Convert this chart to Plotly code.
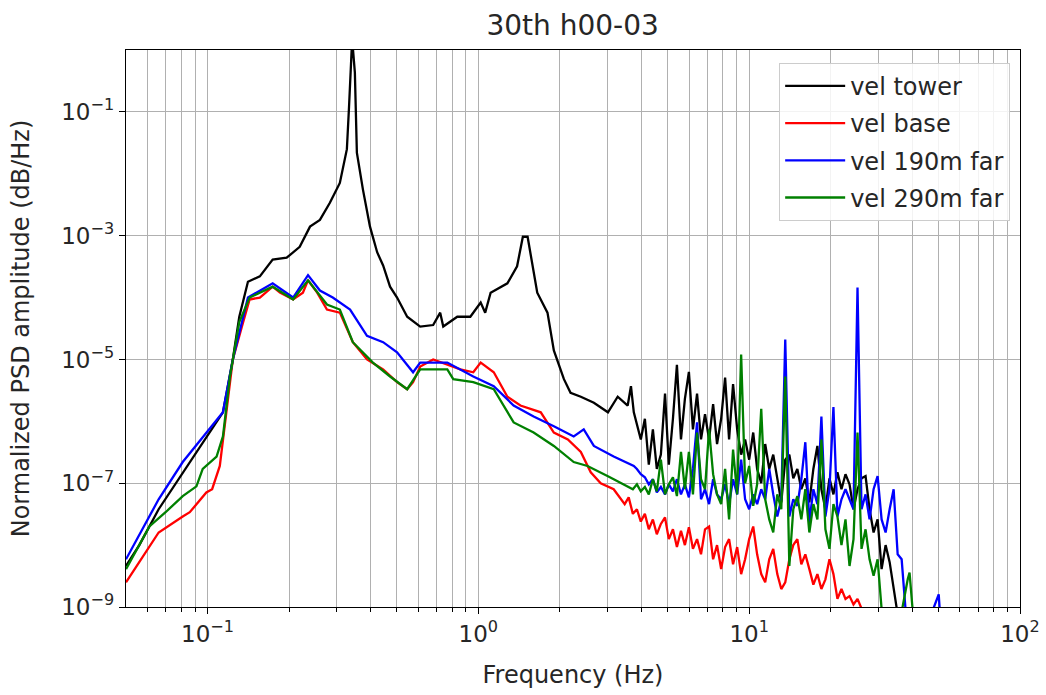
import plotly.graph_objects as go

# ---------------- data ----------------
# low / mid frequency part of each series
freq_tower_lf = [0.050, 0.056, 0.066, 0.084, 0.102, 0.114, 0.124, 0.131, 0.141, 0.156, 0.174, 0.196,
                 0.219, 0.239, 0.260, 0.283, 0.308, 0.327, 0.333, 0.342, 0.350, 0.356, 0.375, 0.398,
                 0.423, 0.445, 0.472, 0.501, 0.546, 0.610, 0.681, 0.723, 0.742, 0.836, 0.934, 1.02,
                 1.06, 1.11, 1.28, 1.39, 1.46, 1.52, 1.65, 1.80, 1.90, 2.07, 2.19, 2.39, 2.67, 3.01,
                 3.27, 3.56, 3.66, 3.75]
psd_tower_lf = [4.6e-9, 1.0e-8, 3.8e-8, 1.9e-7, 6.9e-7, 1.4e-6, 1.0e-5, 4.9e-5, 1.8e-4, 2.2e-4, 4.1e-4, 4.4e-4,
                6.6e-4, 1.4e-3, 1.8e-3, 3.4e-3, 7.1e-3, 2.5e-2, 1.2e-1, 1.5, 4.3e-1, 2.2e-2, 5.5e-3, 1.4e-3,
                5.4e-4, 3.3e-4, 1.5e-4, 1.0e-4, 4.9e-5, 3.4e-5, 3.6e-5, 5.7e-5, 3.4e-5, 4.9e-5, 4.9e-5, 8.3e-5,
                5.7e-5, 1.2e-4, 1.7e-4, 3.2e-4, 9.6e-4, 9.6e-4, 1.2e-4, 5.7e-5, 1.4e-5, 4.8e-6, 2.9e-6, 2.5e-6, 2.0e-6, 1.4e-6,
                2.5e-6, 1.8e-6, 3.7e-6, 1.4e-6]

freq_base_lf = [0.050, 0.066, 0.081, 0.086, 0.099, 0.104, 0.111, 0.118, 0.124, 0.134, 0.143, 0.156,
                0.174, 0.185, 0.207, 0.225, 0.235, 0.254, 0.276, 0.308, 0.344, 0.388, 0.445, 0.501,
                0.546, 0.574, 0.610, 0.681, 0.768, 0.858, 0.958, 1.02, 1.14, 1.28, 1.43, 1.70, 1.90,
                2.14, 2.39, 2.60, 2.83, 3.16]
psd_base_lf = [2.5e-9, 1.6e-8, 2.9e-8, 3.4e-8, 7.1e-8, 8.0e-8, 1.9e-7, 1.6e-6, 1.0e-5, 3.4e-5, 9.3e-5, 1.0e-4,
               1.5e-4, 1.2e-4, 9.3e-5, 1.2e-4, 1.9e-4, 1.2e-4, 6.4e-5, 5.7e-5, 1.9e-5, 1.0e-5, 6.9e-6, 4.3e-6,
               3.3e-6, 4.3e-6, 7.7e-6, 1.0e-5, 8.3e-6, 6.9e-6, 6.2e-6, 8.9e-6, 6.2e-6, 2.5e-6, 1.8e-6, 1.4e-6, 6.6e-7,
               5.1e-7, 3.2e-7, 1.5e-7, 1.0e-7, 8.0e-8]

freq_190m_lf = [0.050, 0.066, 0.081, 0.099, 0.114, 0.124, 0.141, 0.174, 0.207, 0.235, 0.260, 0.290,
                0.336, 0.388, 0.445, 0.501, 0.574, 0.610, 0.768, 0.958, 1.14, 1.35, 1.60, 1.90, 2.25,
                2.45, 2.67, 3.16, 3.75]
psd_190m_lf = [5.9e-9, 5.5e-8, 2.2e-7, 6.6e-7, 1.4e-6, 1.0e-5, 1.0e-4, 1.7e-4, 1.0e-4, 2.3e-4, 1.3e-4, 1.0e-4,
               6.4e-5, 2.4e-5, 1.9e-5, 1.3e-5, 6.2e-6, 8.9e-6, 8.9e-6, 5.3e-6, 3.7e-6, 1.8e-6, 1.2e-6, 8.3e-7, 5.7e-7,
               7.4e-7, 4.0e-7, 2.7e-7, 1.9e-7]

freq_290m_lf = [0.050, 0.061, 0.070, 0.081, 0.091, 0.096, 0.108, 0.114, 0.121, 0.131, 0.143, 0.174,
                0.207, 0.235, 0.276, 0.308, 0.344, 0.408, 0.472, 0.546, 0.610, 0.768, 0.808, 0.958,
                1.14, 1.35, 1.60, 1.90, 2.25, 2.53, 3.01, 3.56]
psd_290m_lf = [4.1e-9, 2.0e-8, 3.4e-8, 6.2e-8, 8.9e-8, 1.7e-7, 2.7e-7, 5.7e-7, 5.3e-6, 4.0e-5, 1.0e-4, 1.5e-4,
               9.3e-5, 1.9e-4, 7.7e-5, 6.4e-5, 1.9e-5, 8.9e-6, 5.3e-6, 3.3e-6, 6.9e-6, 6.9e-6, 4.8e-6, 4.3e-6,
               3.3e-6, 9.6e-7, 6.6e-7, 4.0e-7, 2.2e-7, 1.9e-7, 1.3e-7, 8.9e-8]

freq_hf = [3.47, 3.59, 3.72, 3.85, 3.98, 4.12, 4.26, 4.41, 4.56, 4.72, 4.89, 5.05, 5.23, 5.41,
           5.60, 5.79, 5.99, 6.20, 6.42, 6.64, 6.87, 7.11, 7.36, 7.61, 7.88, 8.15, 8.43, 8.72,
           9.03, 9.34, 9.66, 10.0, 10.35, 10.7, 11.08, 11.46, 11.86, 12.27, 12.70, 13.14, 13.59,
           14.07, 14.55, 15.06, 15.58, 16.12, 16.68, 17.26, 17.86, 18.48, 19.12, 19.79, 20.47,
           21.18, 21.92, 22.68, 23.47, 24.28, 25.12, 25.99, 26.90, 27.83, 28.80, 29.80, 30.83,
           31.90, 33.01, 34.15, 35.34, 36.56, 37.83, 39.14, 40.49]

psd_tower_hf = [5.1e-7, 1.1e-6, 2.0e-7, 7.4e-7, 1.7e-7, 2.9e-7, 2.8e-6, 2.0e-7, 1.1e-6, 8.2e-6,
                5.1e-7, 2.3e-6, 6.3e-6, 7.4e-7, 2.8e-6, 5.1e-7, 1.3e-6, 5.1e-7, 1.9e-6, 4.3e-7,
                1.1e-6, 5.1e-6, 5.1e-7, 4.0e-6, 7.4e-7, 2.9e-7, 5.1e-7, 2.4e-7, 6.6e-7, 1.7e-7,
                1.0e-7, 4.3e-7, 1.7e-7, 2.9e-7, 1.2e-7, 4.9e-8, 2.4e-7, 2.9e-7, 1.2e-7, 1.7e-7,
                8.0e-8, 1.2e-7, 4.9e-8, 1.7e-7, 4.0e-7, 8.0e-8, 3.8e-8, 1.2e-7, 6.6e-8, 1.5e-7,
                8.0e-8, 1.4e-7, 9.6e-8, 3.8e-8, 8.0e-8, 1.2e-7, 1.3e-7, 3.8e-8, 1.6e-8, 2.6e-8,
                4.1e-9, 1.0e-8, 5.3e-9, 1.95e-9, 7.6e-10]          # freq_hf[4:69]

psd_base_hf = [4.6e-8, 5.9e-8, 3.2e-8, 3.8e-8, 2.4e-8, 3.2e-8, 1.8e-8, 2.6e-8, 1.5e-8, 2.2e-8,
               2.8e-8, 1.25e-8, 1.8e-8, 9.3e-9, 1.7e-8, 1.0e-8, 1.95e-8, 8.7e-9, 1.25e-8, 7.1e-9,
               1.8e-8, 2.0e-8, 5.9e-9, 1.0e-8, 4.1e-9, 9.3e-9, 1.25e-8, 4.9e-9, 9.3e-9, 3.4e-9,
               5.9e-9, 1.25e-8, 2.0e-8, 7.1e-9, 3.4e-9, 2.5e-9, 5.9e-9, 8.7e-9, 3.4e-9, 1.95e-9,
               2.5e-9, 5.9e-9, 1.0e-8, 1.25e-8, 4.9e-9, 7.1e-9, 4.1e-9, 2.3e-9, 3.4e-9, 1.95e-9,
               2.8e-9, 5.9e-9, 3.4e-9, 1.35e-9, 1.95e-9, 1.35e-9, 1.5e-9, 1.1e-9, 1.35e-9, 9.3e-10,
               6.6e-10]                                            # freq_hf[0:61]

psd_190m_hf = [1.7e-7, 1.4e-7, 1.25e-7, 9.6e-8, 1.16e-7, 7.1e-8, 8.7e-8, 6.6e-8, 9.6e-8, 7.4e-8,
               1.16e-7, 6.6e-8, 9.6e-8, 5.9e-8, 1.7e-7, 9.6e-7, 5.5e-8, 8.0e-8, 4.6e-8, 1.16e-7,
               6.6e-8, 5.5e-8, 9.6e-8, 4.6e-8, 1.16e-7, 6.6e-8, 2.4e-7, 5.5e-8, 3.8e-8, 6.6e-8,
               4.6e-8, 8.0e-8, 5.5e-8, 1.7e-7, 6.6e-8, 2.9e-8, 5.5e-8, 2.1e-5, 2.9e-8, 5.5e-8,
               4.3e-8, 1.16e-7, 4.6e-7, 2.35e-8, 8.0e-8, 4.6e-8, 1.2e-6, 2.9e-8, 8.0e-8, 1.7e-6,
               2.9e-8, 5.5e-8, 8.0e-8, 5.5e-8, 3.8e-8, 1.45e-4, 3.8e-8, 6.6e-8, 2.6e-8, 8.0e-8,
               1.3e-7, 2.6e-8, 1.6e-8, 3.8e-8, 8.0e-8, 7.1e-9, 5.9e-9, 8.6e-10]   # freq_hf[3:71]
freq_190m_tail = [43.4, 50.1, 51.4]
psd_190m_tail = [3.0e-10, 1.6e-9, 3.0e-10]

psd_290m_hf = [8.0e-8, 9.6e-8, 7.4e-8, 8.7e-8, 6.6e-8, 1.16e-7, 7.4e-8, 2.4e-7, 6.6e-8, 9.6e-8,
               1.25e-7, 6.2e-8, 3.2e-7, 8.0e-8, 3.2e-7, 6.6e-8, 6.6e-7, 1.16e-7, 8.0e-8, 7.4e-7,
               1.4e-7, 6.6e-8, 4.6e-8, 1.7e-7, 2.6e-8, 3.5e-7, 6.6e-8, 1.2e-5, 1.0e-7, 1.9e-7,
               4.3e-8, 9.6e-8, 1.6e-6, 5.5e-8, 2.6e-8, 1.6e-8, 6.6e-8, 3.8e-8, 5.3e-6, 4.6e-9,
               3.8e-8, 6.2e-8, 2.6e-8, 8.0e-8, 1.6e-8, 4.6e-8, 2.6e-8, 5.1e-7, 1.8e-8, 8.7e-9,
               4.6e-8, 2.9e-8, 1.0e-8, 2.6e-8, 4.6e-9, 1.25e-8, 6.6e-7, 8.7e-9, 1.8e-8, 5.9e-9,
               3.2e-9, 5.9e-9, 9.3e-10]                            # freq_hf[2:65]
freq_290m_tail = [31.9, 35.0, 38.5, 39.1, 40.5]
psd_290m_tail = [5.6e-10, 3.0e-10, 2.8e-9, 3.6e-9, 5.6e-10]

series_names = ["vel tower", "vel base", "vel 190m far", "vel 290m far"]
series_colors = ["#000000", "#ff0000", "#0000ff", "#008000"]
series_x = [
    freq_tower_lf + freq_hf[4:69],
    freq_base_lf + freq_hf[0:61],
    freq_190m_lf + freq_hf[3:71] + freq_190m_tail,
    freq_290m_lf + freq_hf[2:65] + freq_290m_tail,
]
series_y = [
    psd_tower_lf + psd_tower_hf,
    psd_base_lf + psd_base_hf,
    psd_190m_lf + psd_190m_hf + psd_190m_tail,
    psd_290m_lf + psd_290m_hf + psd_290m_tail,
]

x_major = [0.1, 1, 10, 100]
x_major_text = ["10<sup>−1</sup>", "10<sup>0</sup>", "10<sup>1</sup>", "10<sup>2</sup>"]
x_minor = [0.06, 0.07, 0.08, 0.09, 0.2, 0.3, 0.4, 0.5, 0.6, 0.7, 0.8, 0.9,
           2, 3, 4, 5, 6, 7, 8, 9, 20, 30, 40, 50, 60, 70, 80, 90]
y_major = [1e-9, 1e-7, 1e-5, 1e-3, 1e-1]
y_major_text = ["10<sup>−9</sup>", "10<sup>−7</sup>", "10<sup>−5</sup>", "10<sup>−3</sup>", "10<sup>−1</sup>"]

# ---------------- figure ----------------
fig = go.Figure()
for name, fx, py, col in zip(series_names, series_x, series_y, series_colors):
    fig.add_trace(go.Scatter(x=fx, y=py, mode="lines", name=name, legendgroup=name,
                             line=dict(color=col, width=2.3)))

font = "DejaVu Sans"
txt = "#262626"
grid = "#b0b0b0"
fig.update_layout(
    width=1046, height=695,
    margin=dict(l=126, r=26, t=50, b=88),
    paper_bgcolor="white", plot_bgcolor="white",
    font=dict(family=font, size=23, color=txt),
    title=dict(text="30th h00-03", x=0.5475, xanchor="center", y=0.964, yanchor="middle",
               font=dict(family=font, size=28, color=txt)),
    legend=dict(x=0.989, xanchor="right", y=0.977, yanchor="top",
                bgcolor="rgba(255,255,255,0.85)", bordercolor="#cccccc", borderwidth=1,
                font=dict(family=font, size=24, color=txt),
                tracegroupgap=3, itemwidth=60),
    showlegend=True,
)
fig.update_xaxes(
    type="log", range=[-1.30103, 2], automargin=False,
    tickvals=x_major, ticktext=x_major_text, ticks="outside", ticklen=6, tickwidth=1.3,
    tickcolor="black",
    showgrid=True, gridcolor=grid, gridwidth=1.3,
    showline=True, linecolor="black", linewidth=1.3, mirror=True,
    minor=dict(tickvals=x_minor, ticks="outside", ticklen=3.5, tickwidth=1, tickcolor="black",
               showgrid=True, gridcolor=grid, gridwidth=1.3),
    title=dict(text="Frequency (Hz)", font=dict(family=font, size=24), standoff=20),
    tickfont=dict(family=font, size=23),
    zeroline=False,
)
fig.update_yaxes(
    type="log", range=[-9, 0], automargin=False,
    tickvals=y_major, ticktext=y_major_text, ticks="outside", ticklen=6, tickwidth=1.3,
    tickcolor="black",
    showgrid=True, gridcolor=grid, gridwidth=1.3,
    showline=True, linecolor="black", linewidth=1.3, mirror=True,
    title=dict(text="Normalized PSD amplitude (dB/Hz)", font=dict(family=font, size=24), standoff=24),
    tickfont=dict(family=font, size=23),
    zeroline=False,
)

fig.write_html("out.html")
